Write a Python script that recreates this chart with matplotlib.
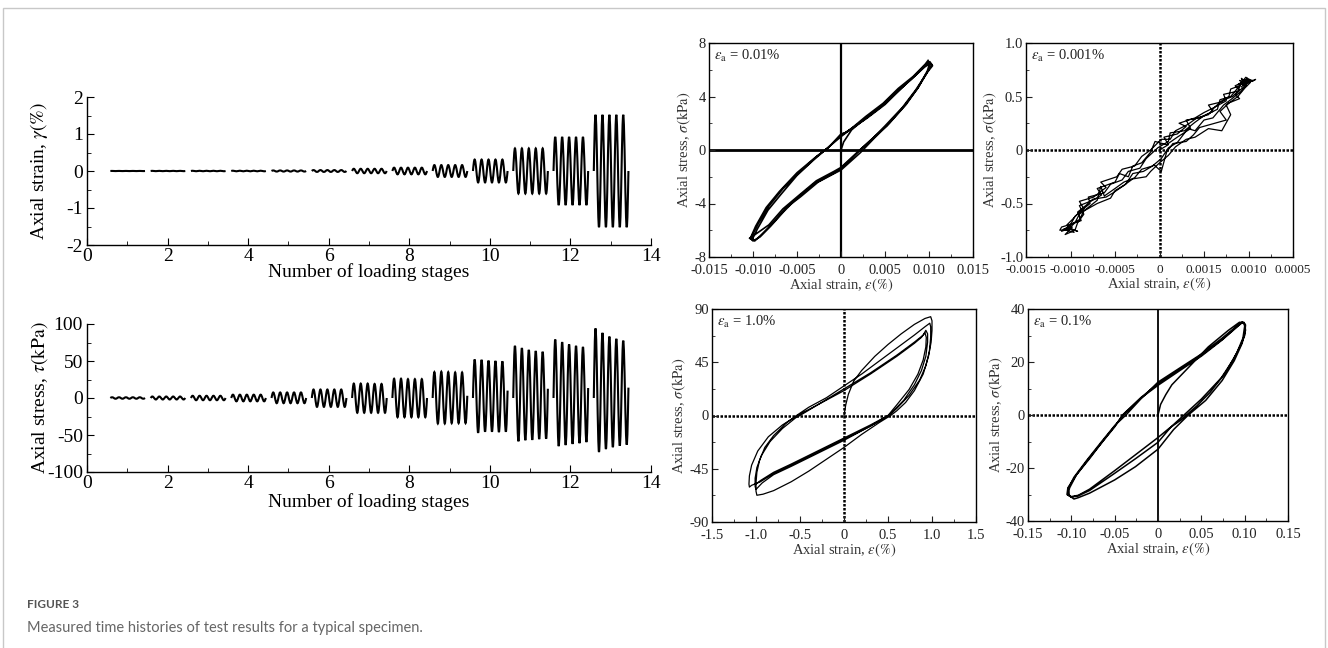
import matplotlib
matplotlib.use('Agg')
import matplotlib.pyplot as plt
from matplotlib.path import Path
from matplotlib.patches import PathPatch, Rectangle
from matplotlib.ticker import MultipleLocator, FixedLocator

plt.rcParams['font.family'] = ['Liberation Serif', 'DejaVu Serif']
plt.rcParams['mathtext.fontset'] = 'stix'
plt.rcParams['axes.unicode_minus'] = False

# ---------------- data: time histories ----------------
stages = list(range(1, 14))
strain_amp = [0.002, 0.004, 0.006, 0.008, 0.015, 0.025, 0.06, 0.09, 0.16, 0.31, 0.61, 0.92, 1.52]
stress_peaks = [
    [1, 1, 1, 1, 1],
    [2, 2, 2, 2, 2],
    [3, 3, 3, 3, 3],
    [4.5, 4.5, 4.5, 4.5, 4.5],
    [7.5, 7.5, 7.5, 7.5, 7.5],
    [11.5, 11.5, 11.5, 11.5, 11.5],
    [19.5, 19.5, 19.5, 19, 19],
    [26, 26, 25.5, 25.5, 25.5],
    [35, 35.5, 35, 34.5, 34.5],
    [52, 51.5, 50.5, 50, 49.5],
    [70.5, 67.5, 65, 63.5, 62.5],
    [79, 75.5, 72.5, 70.5, 69],
    [94, 88, 83, 80, 77.5],
]
stress_troughs = [
    [-1, -1, -1, -1, -1],
    [-2, -2, -2, -2, -2],
    [-3, -3, -3, -3, -3],
    [-4.5, -4.5, -4.5, -4.5, -4.5],
    [-7, -7, -7, -7, -7],
    [-12, -12, -12, -12, -12],
    [-20, -20, -20, -20, -20],
    [-26, -26, -26, -26, -26],
    [-34.5, -34.5, -34, -34, -34],
    [-47, -45.5, -45.5, -46, -45.5],
    [-58.5, -57, -56.5, -55.5, -55],
    [-65, -63.5, -62, -61, -59.5],
    [-73, -69, -66.5, -64.5, -63],
]
stress_end = [0, 0, 0, 0, 0, 0, 0, 0, 3, 10, 12.5, 13.5, 14]

# ---------------- data: hysteresis loops ----------------
# panel eps_a = 0.01 %
loopA_x = [0, 0.0003, 0.0012, 0.003, 0.005, 0.007, 0.0088, 0.0100,
           0.0103, 0.0097, 0.0085, 0.0070, 0.0050, 0.0035, 0.0020, 0.0, -0.0010, -0.0030, -0.0050, -0.0065, -0.0080, -0.0092, -0.0100,
           -0.0103, -0.0097, -0.0085, -0.0070, -0.0050, -0.0030, -0.0016, 0.0, 0.0010, 0.0030, 0.0050, 0.0070, 0.0085, 0.0095, 0.0102,
           0.0104, 0.0098, 0.0087, 0.0072, 0.0052, 0.0033, 0.0018, 0.0, -0.0008, -0.0028, -0.0048, -0.0066, -0.0082, -0.0095, -0.0104,
           -0.0101, -0.0095, -0.0083, -0.0068, -0.0050, -0.0032, -0.0018, 0.0, 0.0008, 0.0028, 0.0048, 0.0065, 0.0082, 0.0094, 0.0101,
           0.0101, 0.0098, 0.0088, 0.0074, 0.0055, 0.0038, 0.0022, 0.0, -0.0006, -0.0026, -0.0046, -0.0062, -0.0078, -0.0090, -0.0098,
           -0.0102, -0.0094, -0.0082, -0.0066, -0.0046, -0.0028, -0.0014, 0.0, 0.0005, 0.0025, 0.0045, 0.0062, 0.0080, 0.0092, 0.0099]
loopA_y = [0, 0.6, 1.5, 2.5, 3.5, 4.7, 5.8, 6.6,
           6.4, 5.7, 4.5, 3.2, 1.8, 0.8, -0.1, -1.4, -1.8, -2.5, -3.6, -4.6, -5.7, -6.5, -6.8,
           -6.6, -5.7, -4.3, -3.1, -1.7, -0.6, 0.1, 1.1, 1.5, 2.4, 3.4, 4.7, 5.6, 6.2, 6.5,
           6.3, 5.8, 4.6, 3.3, 1.8, 0.7, -0.2, -1.3, -1.6, -2.3, -3.4, -4.4, -5.6, -6.2, -6.6,
           -6.7, -5.9, -4.5, -3.3, -1.9, -0.8, 0.0, 1.0, 1.4, 2.5, 3.5, 4.6, 5.5, 6.3, 6.6,
           6.5, 5.9, 4.7, 3.4, 2.0, 0.9, -0.2, -1.5, -1.7, -2.4, -3.5, -4.3, -5.5, -6.3, -6.8,
           -6.5, -5.5, -4.2, -2.9, -1.6, -0.5, 0.2, 1.2, 1.3, 2.2, 3.2, 4.3, 5.3, 6.1, 6.7]

# panel eps_a = 0.001 %
loopB_x = [0, 0.0001, 0.00005, 0.0002, 0.0003, 0.00022, 0.0004, 0.0005, 0.00062, 0.0007, 0.00082, 0.0009, 0.00085, 0.00095, 0.00092,
           0.00098, 0.0009, 0.00102, 0.00096,
           0.00088, 0.00075, 0.0008, 0.0007, 0.00055, 0.0004, 0.0003, 0.00018, 0.0001, 0, -0.0001, -0.00015, -0.0003, -0.0004, -0.0005,
           -0.00055, -0.0007, -0.00085, -0.0009, -0.001, -0.00105, -0.0011, -0.00098, -0.00106, -0.00095,
           -0.00092, -0.00085, -0.0009, -0.00075, -0.00065, -0.0007, -0.0005, -0.00045, -0.00035, -0.0003, -0.0002, -0.0001, -0.00005,
           0.00008, 0.0002, 0.00035, 0.0003, 0.00045, 0.0006, 0.00055, 0.0007, 0.00078, 0.0008, 0.0009, 0.00098, 0.00105,
           0.00094, 0.00099, 0.00088, 0.001,
           0.00092, 0.0008, 0.00072, 0.0006, 0.0005, 0.0004, 0.00032, 0.0002, 0.0001, 0.00002, -0.00008, -0.0002, -0.00028, -0.0004,
           -0.0005, -0.00062, -0.00066, -0.0007, -0.00082, -0.0009, -0.00095, -0.001, -0.00108, -0.00096, -0.00104,
           -0.00098, -0.0009, -0.00078, -0.0008, -0.00062, -0.00055, -0.00042, -0.00035, -0.00022, -0.00015, -0.00002, 0.0001,
           0.00012, 0.00028, 0.0004, 0.0005, 0.00065, 0.00068, 0.0008, 0.00086, 0.00092, 0.00096, 0.00101,
           0.00096, 0.00085, 0.0009, 0.00078, 0.00068, 0.00075, 0.00058, 0.00045, 0.00038, 0.0003, 0.00015, 0.00008, 0.00002,
           -0.00006, -0.00018, -0.0003, -0.00038, -0.00052, -0.0006, -0.00075, -0.00083, -0.00092, -0.00088, -0.00102, -0.0011,
           -0.00112, -0.00098, -0.00092,
           -0.00102, -0.00095, -0.00085, -0.0009, -0.00074, -0.0006, -0.00066, -0.00048, -0.00042, -0.00028, -0.0002, -0.0001,
           0.00002, 0.00012, 0.00018, 0.00032, 0.00042, 0.00055, 0.00062, 0.00075, 0.00072, 0.00088, 0.00092, 0.00097, 0.00104,
           0.00108, 0.00095, 0.001, 0.00092]
loopB_y = [0, 0.05, 0.12, 0.15, 0.22, 0.25, 0.3, 0.35, 0.4, 0.46, 0.5, 0.56, 0.6, 0.64, 0.67,
           0.6, 0.65, 0.63, 0.58,
           0.5, 0.42, 0.33, 0.18, 0.2, 0.12, 0.1, 0.03, -0.05, -0.12, -0.2, -0.25, -0.27, -0.33, -0.38,
           -0.45, -0.5, -0.57, -0.65, -0.7, -0.73, -0.76, -0.72, -0.79, -0.75,
           -0.68, -0.6, -0.52, -0.47, -0.42, -0.36, -0.3, -0.22, -0.25, -0.15, -0.12, -0.02, 0.08,
           0.05, 0.12, 0.2, 0.28, 0.3, 0.36, 0.42, 0.45, 0.5, 0.57, 0.6, 0.66, 0.65,
           0.62, 0.67, 0.61, 0.64,
           0.55, 0.47, 0.42, 0.3, 0.28, 0.18, 0.2, 0.07, 0.02, -0.08, -0.15, -0.18, -0.26, -0.3,
           -0.36, -0.43, -0.34, -0.47, -0.55, -0.6, -0.68, -0.72, -0.74, -0.77, -0.7,
           -0.65, -0.58, -0.5, -0.44, -0.4, -0.32, -0.28, -0.2, -0.17, -0.08, 0.02, 0.08,
           0.16, 0.18, 0.26, 0.32, 0.38, 0.47, 0.5, 0.56, 0.62, 0.6, 0.66,
           0.6, 0.52, 0.48, 0.44, 0.36, 0.28, 0.24, 0.21, 0.14, 0.08, 0.06, -0.02, -0.2,
           -0.14, -0.2, -0.22, -0.32, -0.4, -0.44, -0.46, -0.52, -0.58, -0.66, -0.7, -0.72,
           -0.75, -0.74, -0.76,
           -0.73, -0.62, -0.55, -0.48, -0.44, -0.35, -0.3, -0.25, -0.18, -0.15, -0.06, 0.0,
           0.1, 0.1, 0.18, 0.24, 0.3, 0.33, 0.4, 0.46, 0.52, 0.55, 0.63, 0.68, 0.64,
           0.66, 0.61, 0.65, 0.59]

# panel eps_a = 1.0 %
loopC_x = [0, 0.02, 0.05, 0.11, 0.2, 0.35, 0.5, 0.65, 0.8, 0.92, 0.985,
           1.0, 1.0, 0.99, 0.96, 0.9, 0.8, 0.7, 0.6, 0.53, 0.4, 0.2, 0.0, -0.2, -0.4, -0.6, -0.8, -0.92, -0.99,
           -1.0, -1.0, -0.99, -0.96, -0.9, -0.8, -0.65, -0.54, -0.4, -0.2, 0.0, 0.2, 0.4, 0.6, 0.8, 0.92, 0.975,
           0.985, 0.985, 0.97, 0.93, 0.86, 0.74, 0.6, 0.51, 0.3, 0.0, -0.3, -0.6, -0.8, -0.93, -1.0,
           -1.01, -1.01, -0.99, -0.94, -0.84, -0.7, -0.55, -0.5, -0.3, 0.0, 0.3, 0.6, 0.8, 0.9, 0.93,
           0.95, 0.95, 0.93, 0.88, 0.8, 0.68, 0.55, 0.5, 0.3, 0.0, -0.3, -0.6, -0.8, -0.95, -1.05, -1.075,
           -1.08, -1.075, -1.05, -0.98, -0.86, -0.7, -0.53, -0.3, 0.0, 0.3, 0.6, 0.8, 0.88, 0.92,
           0.935, 0.93, 0.9, 0.84, 0.74, 0.6, 0.5, 0.3, 0.0, -0.3, -0.6, -0.8, -0.95, -1.0]
loopC_y = [0, 9, 18, 29, 38, 50, 60, 69, 77, 82, 83.5,
           80, 72, 62, 50, 35, 21, 11, 4, 0, -6, -16, -27, -37, -47, -56, -63.5, -66.5, -67.4,
           -64, -57, -48, -38, -27, -17, -6, 0, 7, 15, 25, 35, 46, 57, 68, 75, 78,
           75, 66, 54, 42, 30, 17, 6, 0, -9, -21, -32, -43, -50, -57, -62.5,
           -60, -53, -44, -34, -22, -11, -2, 0, 9, 22.5, 36, 51, 62, 68, 72,
           69, 62, 50, 38, 26, 13, 3, 0, -9, -20, -31, -42, -49, -56, -59, -60.5,
           -58, -51, -42, -30, -18, -8, 0, 9, 21, 35, 50, 61, 66, 70,
           66, 58, 47, 35, 22, 9, 0, -8, -19, -30, -41, -48, -55, -58]

# panel eps_a = 0.1 %
loopD_x = [0, 0.003, 0.009, 0.016, 0.036, 0.058, 0.081, 0.094,
           0.1, 0.101, 0.097, 0.088, 0.074, 0.055, 0.035, 0.018, 0.0, -0.026, -0.05, -0.079, -0.092, -0.097,
           -0.102, -0.104, -0.097, -0.082, -0.065, -0.05, -0.037, -0.02, 0.0, 0.024, 0.05, 0.074, 0.087, 0.094, 0.097,
           0.101, 0.1, 0.095, 0.087, 0.073, 0.05, 0.03, 0.015, 0.0, -0.026, -0.05, -0.079, -0.092, -0.1,
           -0.105, -0.104, -0.095, -0.08, -0.065, -0.05, -0.041, -0.02, 0.0, 0.024, 0.05, 0.074, 0.088, 0.095, 0.099,
           0.1, 0.098, 0.091, 0.078, 0.06, 0.045, 0.026, 0.013, 0.0, -0.026, -0.05, -0.079, -0.092, -0.1,
           -0.104, -0.102, -0.094, -0.079, -0.064, -0.05, -0.04, -0.02, 0.0, 0.024, 0.05, 0.074, 0.088, 0.094, 0.097]
loopD_y = [0, 4, 7.7, 11.4, 18.2, 25.7, 31.9, 35.0,
           34.5, 32, 27, 20.5, 13, 5.5, 0, -5.5, -12.9, -19.5, -24.5, -29.5, -31.2, -31.7,
           -30.5, -28, -23.5, -17, -10, -4, 0, 6, 12.4, 17.5, 23, 29, 32.5, 34.5, 35.2,
           34, 30, 26, 21, 14, 6, 0, -4.5, -10.3, -16.5, -22, -28.5, -30.5, -31,
           -30, -27.5, -23, -16.5, -10.5, -4.5, 0, 6.5, 11.8, 17, 22.6, 28.5, 32.5, 34.5, 35,
           33.5, 29, 23.5, 16, 8.5, 3.5, -2, -5, -8.5, -15, -21, -28, -30.3, -30.8,
           -30.2, -27.5, -22.5, -16.5, -10, -4.2, 0, 6.3, 11.2, 16.5, 22.2, 28.3, 32.3, 34, 34.8]

# ---------------- figure ----------------
W, H = 1328, 648
fig = plt.figure(figsize=(W / 100, H / 100), dpi=100)


def add_ax(l, t, r, b):
    return fig.add_axes([l / W, 1 - b / H, (r - l) / W, (b - t) / H])


def stage_patch(k, ext):
    x0, w = k - 0.42, 0.86
    frac = [0.0] + [0.25 + 0.5 * i for i in range(10)] + [5.0]
    xs = [x0 + w * f / 5.0 for f in frac]
    verts = [(xs[0], ext[0])]
    codes = [Path.MOVETO]
    n = len(xs)
    for i in range(n - 1):
        xa, ya, xb, yb = xs[i], ext[i], xs[i + 1], ext[i + 1]
        dx, dy = xb - xa, yb - ya
        if i == 0:
            c1 = (xa + dx * 0.33, ya + dy * 0.5)
            c2 = (xb - dx * 0.4, yb)
        elif i == n - 2:
            c1 = (xa + dx * 0.4, ya)
            c2 = (xb - dx * 0.33, yb - dy * 0.5)
        else:
            c1 = (xa + dx * 0.36, ya)
            c2 = (xb - dx * 0.36, yb)
        verts += [c1, c2, (xb, yb)]
        codes += [Path.CURVE4] * 3
    return PathPatch(Path(verts, codes), fill=False, lw=1.5, ec='black', capstyle='butt')


def style_left(ax, ylim, ymaj, ymin, ylabel, xlab_y):
    ax.set_xlim(0, 14)
    ax.set_ylim(*ylim)
    ax.xaxis.set_major_locator(MultipleLocator(2))
    ax.xaxis.set_minor_locator(MultipleLocator(1))
    ax.yaxis.set_major_locator(MultipleLocator(ymaj))
    ax.yaxis.set_minor_locator(MultipleLocator(ymin))
    for s in ('top', 'right'):
        ax.spines[s].set_visible(False)
    for s in ('left', 'bottom'):
        ax.spines[s].set_linewidth(1.0)
    ax.tick_params(which='both', direction='in', labelsize=14)
    ax.tick_params(axis='x', pad=2)
    ax.tick_params(axis='y', pad=3)
    ax.tick_params(which='major', length=5)
    ax.tick_params(which='minor', length=3)
    ax.set_xlabel('Number of loading stages', fontsize=14)
    ax.set_ylabel(ylabel, fontsize=14)
    ax.yaxis.set_label_coords(-0.066, 0.5)
    ax.xaxis.set_label_coords(0.5, xlab_y)


# top-left: strain history
ax1 = add_ax(87, 97, 651, 245)
for k, a in zip(stages, strain_amp):
    ext = [0.0]
    for c in range(5):
        ext += [a, -a]
    ext += [0.0]
    ax1.add_patch(stage_patch(k, ext))
style_left(ax1, (-2, 2), 1, 0.5, r'Axial strain, $\gamma\left(\%\right)$', -0.125)

# bottom-left: stress history
ax2 = add_ax(87, 324, 651, 472)
for k, pk, tr, en in zip(stages, stress_peaks, stress_troughs, stress_end):
    ext = [0.0]
    for p, t in zip(pk, tr):
        ext += [p, t]
    ext += [en]
    ax2.add_patch(stage_patch(k, ext))
style_left(ax2, (-100, 100), 50, 25, r'Axial stress, $\tau\left(\mathrm{kPa}\right)$', -0.14)


def hyst(box, xs, ys, xlim, xmaj, xlabels, ylim, ymaj, ylabels, note, zstyle, lw, xfs=10.5):
    ax = add_ax(*box)
    ax.plot(xs, ys, color='black', lw=lw, solid_joinstyle='round')
    if zstyle == 'solid':
        ax.axhline(0, color='black', lw=2.0, zorder=1)
        ax.axvline(0, color='black', lw=1.6, zorder=1)
    elif zstyle == 'mixed':
        ax.axhline(0, color='black', lw=1.8, ls=(0, (1, 0.6)), zorder=1)
        ax.axvline(0, color='black', lw=1.3, zorder=1)
    else:
        ax.axhline(0, color='black', lw=1.8, ls=(0, (1, 0.6)), zorder=1)
        ax.axvline(0, color='black', lw=1.8, ls=(0, (1, 0.6)), zorder=1)
    ax.set_xlim(*xlim)
    ax.set_ylim(*ylim)
    ax.xaxis.set_major_locator(FixedLocator(xmaj))
    ax.set_xticklabels(xlabels)
    ax.yaxis.set_major_locator(FixedLocator(ymaj))
    ax.set_yticklabels(ylabels)
    xm = [(xmaj[i] + xmaj[i + 1]) / 2 for i in range(len(xmaj) - 1)]
    ym = [(ymaj[i] + ymaj[i + 1]) / 2 for i in range(len(ymaj) - 1)]
    ax.xaxis.set_minor_locator(FixedLocator(xm))
    ax.yaxis.set_minor_locator(FixedLocator(ym))
    for s in ax.spines.values():
        s.set_linewidth(1.0)
    ax.tick_params(which='both', direction='in', colors='#222222')
    ax.tick_params(axis='x', labelsize=xfs, pad=5)
    ax.tick_params(axis='y', labelsize=10.5, pad=2)
    ax.tick_params(which='major', length=4)
    ax.tick_params(which='minor', length=2.5)
    ax.set_xlabel(r'Axial strain, $\varepsilon\left(\%\right)$', fontsize=10.5, labelpad=0, color='#333333')
    ax.set_ylabel(r'Axial stress, $\sigma\left(\mathrm{kPa}\right)$', fontsize=10.5, labelpad=1, color='#333333')
    ax.text(0.02, 0.975, note, transform=ax.transAxes, va='top', ha='left', fontsize=10.5, color='#222222')
    return ax


hyst((709, 43, 973, 257), loopA_x, loopA_y, (-0.015, 0.015),
     [-0.015, -0.010, -0.005, 0, 0.005, 0.010, 0.015],
     ['-0.015', '-0.010', '-0.005', '0', '0.005', '0.010', '0.015'],
     (-8, 8), [-8, -4, 0, 4, 8], ['-8', '-4', '0', '4', '8'],
     r'$\varepsilon_{\mathrm{a}}$ = 0.01%', 'solid', 1.2)

hyst((1026, 43, 1293, 257), loopB_x, loopB_y, (-0.0015, 0.0015),
     [-0.0015, -0.0010, -0.0005, 0, 0.0005, 0.0010, 0.0015],
     ['-0.0015', '-0.0010', '-0.0005', '0', '0.0015', '0.0010', '0.0005'],
     (-1.0, 1.0), [-1.0, -0.5, 0, 0.5, 1.0], ['-1.0', '-0.5', '0', '0.5', '1.0'],
     r'$\varepsilon_{\mathrm{a}}$ = 0.001%', 'dotted', 0.9, xfs=9.5)

hyst((712, 309, 976, 522), loopC_x, loopC_y, (-1.5, 1.5),
     [-1.5, -1.0, -0.5, 0, 0.5, 1.0, 1.5],
     ['-1.5', '-1.0', '-0.5', '0', '0.5', '1.0', '1.5'],
     (-90, 90), [-90, -45, 0, 45, 90], ['-90', '-45', '0', '45', '90'],
     r'$\varepsilon_{\mathrm{a}}$ = 1.0%', 'dotted', 0.9)

hyst((1028, 309, 1288, 521), loopD_x, loopD_y, (-0.15, 0.15),
     [-0.15, -0.10, -0.05, 0, 0.05, 0.10, 0.15],
     ['-0.15', '-0.10', '-0.05', '0', '0.05', '0.10', '0.15'],
     (-40, 40), [-40, -20, 0, 20, 40], ['-40', '-20', '0', '20', '40'],
     r'$\varepsilon_{\mathrm{a}}$ = 0.1%', 'mixed', 1.1)

# outer frame and caption
fig.add_artist(Rectangle((3 / W, -0.05), 1322 / W, 1.05 - 8 / H, transform=fig.transFigure,
                         fill=False, ec='#c8c8c8', lw=1.0))
fig.text(27 / W, 1 - 604 / H, 'FIGURE 3', fontsize=8.5, color='#555555', family=['Lato', 'DejaVu Sans'],
         weight='bold', va='center', ha='left')
fig.text(27 / W, 1 - 628 / H, 'Measured time histories of test results for a typical specimen.', fontsize=10.5,
         color='#666666', family=['Lato', 'DejaVu Sans'], va='center', ha='left')

fig.savefig('out.png', dpi=100)
